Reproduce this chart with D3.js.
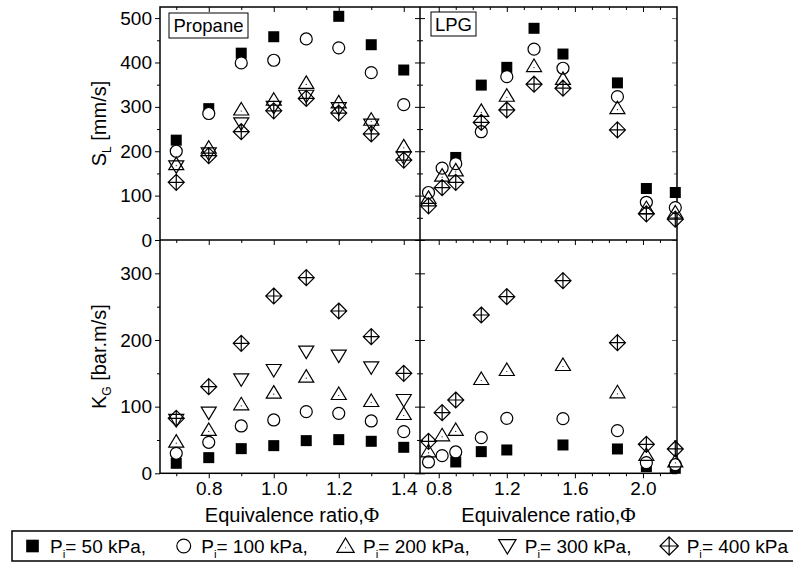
<!DOCTYPE html>
<html><head><meta charset="utf-8">
<script src="https://cdn.jsdelivr.net/npm/d3@7"></script>
<style>
body{margin:0;background:#fff}
svg{display:block}
text{font-family:"Liberation Sans",Arial,sans-serif;fill:#000}
</style>
</head><body>
<svg id="c" width="793" height="564"></svg>
<script>
// ---------- DATA ----------
const propanePhi = [0.7, 0.8, 0.9, 1.0, 1.1, 1.2, 1.3, 1.4];
const propaneSL_50  = [225, 296, 421, 458, null, 504, 440, 383];
const propaneSL_100 = [200, 285, 399, 405, 453, 433, 377, 305];
const propaneSL_200 = [171, 208, 294, 316, 354, 310, 271, 211];
const propaneSL_300 = [166, 195, 263, 300, 325, 297, 260, 186];
const propaneSL_400 = [130, 190, 244, 291, 319, 286, 239, 180];

const propaneKG_50  = [15, 23.5, 37, 41.5, 49, 50.5, 48, 39];
const propaneKG_100 = [30, 46.5, 71, 80, 92.5, 90, 78.5, 62.5];
const propaneKG_200 = [47.5, 65, 103.5, 121, 145, 119, 108.5, 89];
const propaneKG_300 = [80, 91, 141, 155, 182.5, 176.5, 159, 110];
const propaneKG_400 = [82.5, 130, 195, 266, 293.5, 243.5, 205, 150];

const lpgPhiSL = [0.74, 0.82, 0.9, 1.05, 1.2, 1.36, 1.53, 1.85, 2.02, 2.19];
const lpgSL_50  = [null, null, 186, 349, 389, 477, 419, 354, 116, 107];
const lpgSL_100 = [107, 162, 172, 244, 368, 430, 387, 323, 85, 73];
const lpgSL_200 = [95, 145, 157, 291, 325, 392, 363, 297, 72, 62];
const lpgSL_400 = [77, 118, 130, 265, 293, 351, 342, 248, 59, 47];

const lpgPhiKG = [0.74, 0.82, 0.9, 1.05, 1.2, 1.53, 1.85, 2.02, 2.19];
const lpgKG_50  = [null, null, 17, 32.5, 35, 42.5, 36.5, 10, 7.5];
const lpgKG_100 = [17, 26.5, 32, 53.5, 82.5, 82, 64, 16, 13];
const lpgKG_200 = [33, 57, 65, 141.5, 155, 162.5, 121.5, 27.5, 18];
const lpgKG_400 = [48, 91, 110, 237.5, 265, 289, 196, 43.5, 36.5];

const pressures = ["50", "100", "200", "300", "400"];
const xTicksLeft = [0.8, 1.0, 1.2, 1.4];
const xMinorLeft = [0.7, 0.9, 1.1, 1.3];
const xTicksRight = [0.8, 1.2, 1.6, 2.0];
const xMinorRight = [0.9, 1.0, 1.1, 1.3, 1.4, 1.5, 1.7, 1.8, 1.9, 2.1];
const yTicksSL = [0, 100, 200, 300, 400, 500];
const yMinorSL = [50, 150, 250, 350, 450];
const yTicksKG = [0, 100, 200, 300];
const yMinorKG = [50, 150, 250];

// ---------- LAYOUT ----------
const L = 160, M = 420, R = 677, T = 7, MID = 240, B = 473.3;
const svg = d3.select("#c");

const xL = d3.scaleLinear().domain([0.65, 1.45]).range([L, M]);
const xR = d3.scaleLinear().domain([0.69, 2.2]).range([M, R]);
const yT = d3.scaleLinear().domain([0, 525]).range([MID, T]);
const yB = d3.scaleLinear().domain([0, 350]).range([B, MID]);

// ---------- SHAPES ----------
function makeShapes(k) {
  return {
    sq: (g, x, y) => g.append("rect").attr("x", x - 5.5 * k).attr("y", y - 5.5 * k).attr("width", 11 * k).attr("height", 11 * k).attr("fill", "#000"),
    ci: (g, x, y) => g.append("circle").attr("cx", x).attr("cy", y).attr("r", 6 * k).attr("fill", "#fff").attr("stroke", "#000").attr("stroke-width", 1.2),
    up: (g, x, y) => {
      g.append("path").attr("d", `M${x},${y-7*k}L${x+7.5*k},${y+5.5*k}L${x-7.5*k},${y+5.5*k}Z`).attr("fill", "none").attr("stroke", "#000").attr("stroke-width", 1.2);
      g.append("circle").attr("cx", x).attr("cy", y + 1.5 * k).attr("r", 0.6).attr("fill", "#000");
    },
    dn: (g, x, y) => g.append("path").attr("d", `M${x},${y+7*k}L${x+7.5*k},${y-5.5*k}L${x-7.5*k},${y-5.5*k}Z`).attr("fill", "none").attr("stroke", "#000").attr("stroke-width", 1.2),
    di: (g, x, y) => g.append("path").attr("d", `M${x},${y-8*k}L${x+8*k},${y}L${x},${y+8*k}L${x-8*k},${y}ZM${x-8*k},${y}H${x+8*k}M${x},${y-8*k}V${y+8*k}`).attr("fill", "none").attr("stroke", "#000").attr("stroke-width", 1.2)
  };
}
const shapes = makeShapes(1);
const legendShapes = makeShapes(1.15);
const shapeKeys = ["sq", "ci", "up", "dn", "di"];

function plotSeries(xs, ys, xs_, ys_, shapeKey) {
  const g = svg.append("g");
  xs.forEach((p, i) => {
    if (ys[i] == null) return;
    shapes[shapeKey](g, xs_(p), ys_(ys[i]));
  });
}

// ---------- AXES ----------
function tickAxis(axisFn, scale, values, size, fmt) {
  return axisFn(scale).tickValues(values).tickSizeInner(size).tickSizeOuter(0).tickPadding(3).tickFormat(fmt || "");
}
function styleAxis(g) {
  g.select(".domain").remove();
  g.selectAll("line").attr("stroke", "#000").attr("stroke-width", 1);
  g.selectAll("text").attr("font-size", 19).attr("font-family", "Liberation Sans, Arial, sans-serif").attr("fill", "#000");
}
const f1 = d3.format(".1f");

// bottom axes (labels)
svg.append("g").attr("transform", `translate(0,${B})`).call(tickAxis(d3.axisBottom, xL, xTicksLeft, 5, f1)).call(styleAxis);
svg.append("g").attr("transform", `translate(0,${B})`).call(tickAxis(d3.axisBottom, xL, xMinorLeft, 3)).call(styleAxis);
svg.append("g").attr("transform", `translate(0,${B})`).call(tickAxis(d3.axisBottom, xR, xTicksRight, 5, f1)).call(styleAxis);
svg.append("g").attr("transform", `translate(0,${B})`).call(tickAxis(d3.axisBottom, xR, xMinorRight, 3)).call(styleAxis);
// middle horizontal and top edge: ticks pointing down
[[xL, xTicksLeft, 5], [xL, xMinorLeft, 3], [xR, xTicksRight, 5], [xR, xMinorRight, 3]].forEach(([s, v, z]) => {
  svg.append("g").attr("transform", `translate(0,${MID})`).call(tickAxis(d3.axisBottom, s, v, z)).call(styleAxis);
  svg.append("g").attr("transform", `translate(0,${T})`).call(tickAxis(d3.axisBottom, s, v, z)).call(styleAxis);
});
// left y axes
svg.append("g").attr("transform", `translate(${L},0)`).call(tickAxis(d3.axisLeft, yT, yTicksSL, 5, d3.format("d"))).call(styleAxis);
svg.append("g").attr("transform", `translate(${L},0)`).call(tickAxis(d3.axisLeft, yT, yMinorSL, 3)).call(styleAxis);
svg.append("g").attr("transform", `translate(${L},0)`).call(tickAxis(d3.axisLeft, yB, yTicksKG, 5, d3.format("d"))).call(styleAxis);
svg.append("g").attr("transform", `translate(${L},0)`).call(tickAxis(d3.axisLeft, yB, yMinorKG, 3)).call(styleAxis);
// inner ticks on divider and right edge
[[yT, yTicksSL, 5], [yT, yMinorSL, 3], [yB, yTicksKG, 5], [yB, yMinorKG, 3]].forEach(([s, v, z]) => {
  svg.append("g").attr("transform", `translate(${M},0)`).call(tickAxis(d3.axisLeft, s, v, z)).call(styleAxis);
  svg.append("g").attr("transform", `translate(${M},0)`).call(tickAxis(d3.axisRight, s, v, z)).call(styleAxis);
  svg.append("g").attr("transform", `translate(${R},0)`).call(tickAxis(d3.axisLeft, s, v, z)).call(styleAxis).selectAll("line").attr("stroke", "#666");
});

// frame
const frame = svg.append("g").attr("stroke", "#000").attr("stroke-width", 1.5).attr("fill", "none");
frame.append("rect").attr("x", L).attr("y", T).attr("width", R - L).attr("height", B - T);
frame.append("line").attr("x1", M).attr("x2", M).attr("y1", T).attr("y2", B);
frame.append("line").attr("x1", L).attr("x2", R).attr("y1", MID).attr("y2", MID);

// ---------- DATA MARKS ----------
const propSL = [propaneSL_50, propaneSL_100, propaneSL_200, propaneSL_300, propaneSL_400];
const propKG = [propaneKG_50, propaneKG_100, propaneKG_200, propaneKG_300, propaneKG_400];
propSL.forEach((s, i) => plotSeries(propanePhi, s, xL, yT, shapeKeys[i]));
propKG.forEach((s, i) => plotSeries(propanePhi, s, xL, yB, shapeKeys[i]));
const lpgSL = [lpgSL_50, lpgSL_100, lpgSL_200, null, lpgSL_400];
const lpgKG = [lpgKG_50, lpgKG_100, lpgKG_200, null, lpgKG_400];
lpgSL.forEach((s, i) => { if (s) plotSeries(lpgPhiSL, s, xR, yT, shapeKeys[i]); });
lpgKG.forEach((s, i) => { if (s) plotSeries(lpgPhiKG, s, xR, yB, shapeKeys[i]); });

// ---------- PANEL LABELS ----------
function boxLabel(x, y, w, h, txt) {
  svg.append("rect").attr("x", x).attr("y", y).attr("width", w).attr("height", h).attr("fill", "#fff").attr("stroke", "#000").attr("stroke-width", 1);
  svg.append("text").attr("x", x + w / 2).attr("y", y + h / 2 + 6.5).attr("text-anchor", "middle").attr("font-size", 18.5).text(txt);
}
boxLabel(169, 13, 79, 25, "Propane");
boxLabel(431, 12, 45, 24, "LPG");

// ---------- AXIS TITLES ----------
function xTitle(cx) {
  const t = svg.append("text").attr("x", cx).attr("y", 522).attr("text-anchor", "middle").attr("font-size", 20);
  t.append("tspan").text("Equivalence ratio,");
  t.append("tspan").attr("font-family", "Liberation Serif, Times New Roman, serif").attr("font-size", 21).text("Φ");
}
xTitle((L + M) / 2 + 2);
xTitle((M + R) / 2);

function yTitle(cy, main, sub, rest) {
  const t = svg.append("text").attr("transform", `translate(106,${cy}) rotate(-90)`).attr("text-anchor", "middle").attr("font-size", 20);
  t.append("tspan").text(main);
  t.append("tspan").attr("font-size", 12).attr("dy", 5).text(sub);
  t.append("tspan").attr("dy", -5).text(rest);
}
yTitle((T + MID) / 2, "S", "L", " [mm/s]");
yTitle((MID + B) / 2, "K", "G", " [bar.m/s]");

// ---------- LEGEND ----------
svg.append("rect").attr("x", 12).attr("y", 531).attr("width", 800).attr("height", 30).attr("fill", "none").attr("stroke", "#000").attr("stroke-width", 1.5);
const legTexts = pressures.map((p, i) => {
  const t = svg.append("text").attr("y", 553).attr("font-size", 19);
  t.append("tspan").text("P");
  t.append("tspan").attr("font-size", 11.5).attr("dy", 5).text("i");
  t.append("tspan").attr("dy", -5).text("= " + p + " kPa" + (i < pressures.length - 1 ? "," : ""));
  return t;
});
const widths = legTexts.map(t => t.node().getComputedTextLength());
const startX = 25, endX = 788, mk = 25;
const gap = (endX - startX - d3.sum(widths) - pressures.length * mk) / (pressures.length - 1);
let cur = startX;
legTexts.forEach((t, i) => {
  legendShapes[shapeKeys[i]](svg.append("g"), cur + 7.5, 546);
  t.attr("x", cur + mk);
  cur = cur + mk + widths[i] + gap;
});
</script>
</body></html>
